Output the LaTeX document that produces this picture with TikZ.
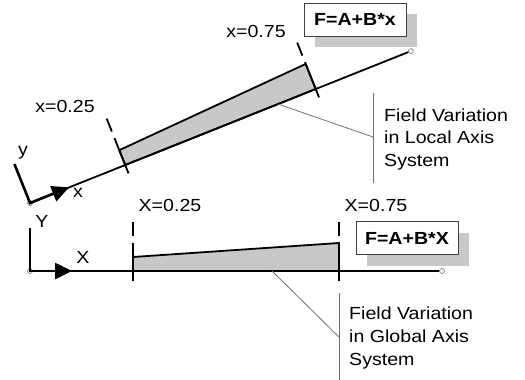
\documentclass[tikz,border=0pt]{standalone}
\usepackage{fontspec}
\setmainfont{Liberation Sans}[FakeStretch=1.12]
\usetikzlibrary{arrows.meta,shadows,calc}
\definecolor{fillgray}{HTML}{C8C8C8}
\definecolor{linegray}{HTML}{707070}
\newcommand\mylblfont{\fontsize{17.5}{21}\selectfont}
\begin{document}
\begin{tikzpicture}[x=1pt,y=-1pt,
  beam/.style={line width=1.8pt},
  axisline/.style={line width=2.6pt,-{Triangle[length=17pt,width=16pt]}},
  strip/.style={fill=fillgray,draw=black,line width=1.8pt,line join=miter},
  tickline/.style={line width=1.8pt,dash pattern=on 14pt off 7pt on 60pt off 0pt},
  endpt/.style={circle,draw=linegray,fill=white,line width=0.6pt,inner sep=0pt,minimum size=5pt},
  callout/.style={draw=linegray,line width=0.8pt},
  lbl/.style={inner sep=0pt,font=\mylblfont},
  noteline/.style={inner sep=0pt,anchor=base west,font=\mylblfont},
  formula/.style={draw=black!75,line width=0.8pt,fill=white,minimum width=102pt,minimum height=33pt,
    inner sep=0pt,font=\bfseries\fontsize{17.5}{20}\selectfont,
    drop shadow={shadow xshift=11pt,shadow yshift=-11pt,fill=fillgray,opacity=1}}
]
\useasboundingbox (0,0) rectangle (525,380);

% ---------- local (rotated) member ----------
\begin{scope}[shift={(30,203)},x={(0.9288pt,0.3705pt)},y={(-0.3705pt,0.9288pt)}]
  \draw[strip] (102.5,0) -- (102.5,16) -- (307.6,27) -- (307.6,0) -- cycle;
  \node[endpt] (lo) at (0,0) {};
  \node[endpt] (le) at (410,0) {};
  \draw[beam] (lo.center) -- (le);
  \draw[axisline] (0,42) -- (lo.center) -- (42,0);
  \draw[tickline] (102.5,50) -- (102.5,-9);
  \draw[tickline] (307.6,50) -- (307.6,-9);
  \coordinate (l1) at (267,0);
\end{scope}

\node[lbl,anchor=base] (ly) at (23,155) {y};
\node[lbl,anchor=base] (lx) at (78,197) {x};
\node[lbl,anchor=base] (lq1) at (65,112) {x=0.25};
\node[lbl,anchor=base] (lq2) at (256,37) {x=0.75};
\node[formula] (f1) at (355,19.5) {F=A+B*x};

\coordinate (c1top) at (373,93);
\coordinate (c1mid) at (373,137);
\coordinate (c1bot) at (373,183);
\draw[callout] (c1top) -- (c1bot);
\draw[callout] (l1) -- (c1mid);
\node[noteline] (t1a) at (384,121) {Field Variation};
\node[noteline] (t1b) at (384,143.5) {in Local Axis};
\node[noteline] (t1c) at (384,166) {System};

% ---------- global member ----------
\begin{scope}[shift={(30,271)}]
  \draw[strip] (103,0) -- (103,-14) -- (309,-28) -- (309,0) -- cycle;
  \node[endpt] (go) at (0,0) {};
  \node[endpt] (ge) at (412,0) {};
  \draw[beam] (go.center) -- (ge);
  \draw[axisline] (0,-43) -- (go.center) -- (42,0);
  \draw[tickline] (103,-49) -- (103,10);
  \draw[tickline] (309,-49) -- (309,10);
  \coordinate (g1) at (242,0);
\end{scope}

\node[lbl,anchor=base] (gy) at (42,227) {Y};
\node[lbl,anchor=base] (gx) at (83,263) {X};
\node[lbl,anchor=base] (gq1) at (170,211) {X=0.25};
\node[lbl,anchor=base] (gq2) at (376,211) {X=0.75};
\node[formula] (f2) at (407,238) {F=A+B*X};

\coordinate (c2top) at (339,293);
\coordinate (c2mid) at (339,337);
\coordinate (c2bot) at (339,380);
\draw[callout] (c2top) -- (c2bot);
\draw[callout] (g1) -- (c2mid);
\node[noteline] (t2a) at (349,319) {Field Variation};
\node[noteline] (t2b) at (349,342) {in Global Axis};
\node[noteline] (t2c) at (349,365) {System};
\end{tikzpicture}
\end{document}
